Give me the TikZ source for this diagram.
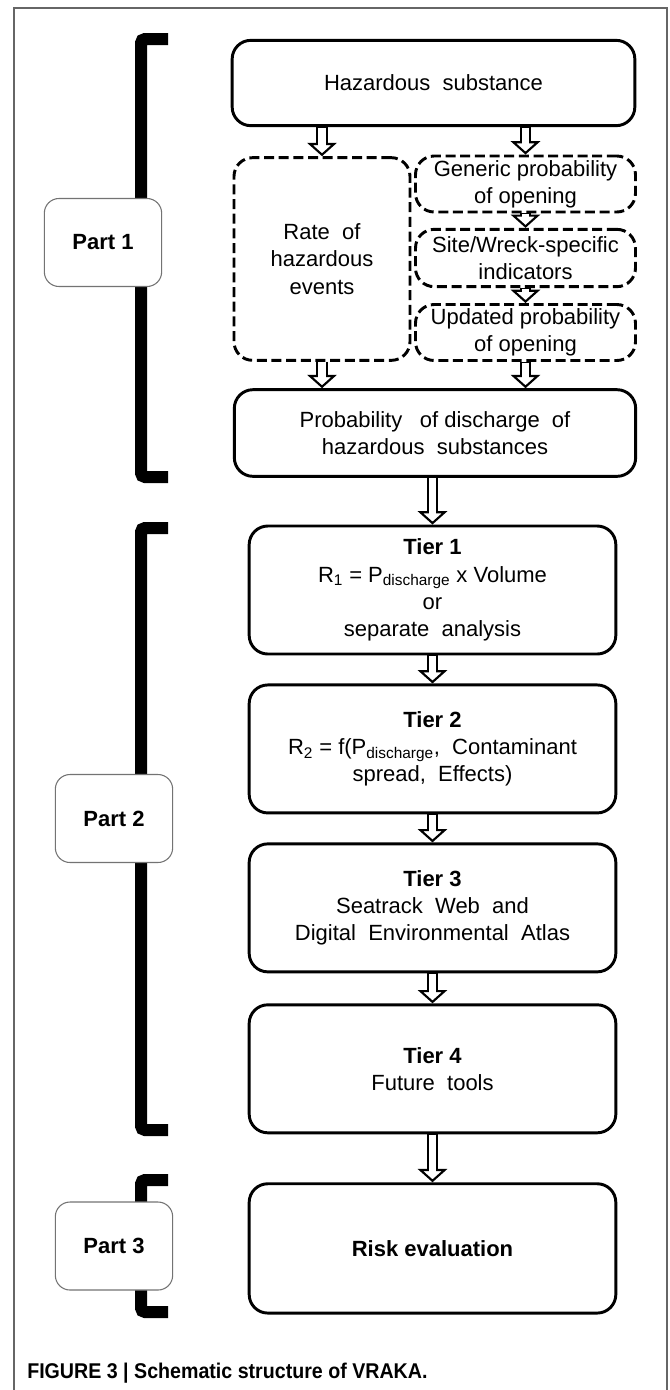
\documentclass[tikz,border=0pt]{standalone}
\usepackage{fontspec}
\setsansfont{Liberation Sans}
\usepackage{graphicx}
\usetikzlibrary{arrows.meta, positioning}

\begin{document}
\begin{tikzpicture}[x=0.75pt, y=-0.75pt, node distance=21pt]

% Define styles
\tikzstyle{box} = [rectangle, draw=black, line width=2.2pt, rounded corners=14pt, fill=white,
    align=center, inner sep=1pt, font=\fontsize{16.5}{20.5}\sffamily]
\tikzstyle{dbox} = [box, dash pattern=on 7.5pt off 3.5pt]
\tikzstyle{tier} = [box, minimum width=275pt, minimum height=96pt]
\tikzstyle{part} = [rectangle, draw=black!55, line width=0.8pt, rounded corners=11pt, fill=white,
    minimum width=88pt, minimum height=66pt, font=\fontsize{16.5}{20}\sffamily\bfseries]
\tikzstyle{bracket} = [line width=9pt, rounded corners=3pt]
\tikzstyle{line} = [draw, line width=8.5pt, -{Triangle[open, length=10pt, width=22pt, line width=1.6pt]},
    postaction={draw=white, line width=5.3pt, -, shorten <=0.5pt, shorten >=5.5pt}]

\useasboundingbox (0,0) rectangle (669,1390);

% Frame
\draw[black!60, line width=0.8pt] (14,1390) -- (14,8) -- (667,8) -- (667,1390);

% Part 1
\node [box, minimum width=302pt, minimum height=64pt] (haz) at (433.5,83) {Hazardous\ \ substance};
\node [dbox, minimum width=132pt, minimum height=152pt] (rate) at (322,259) {Rate\ \ of\\hazardous\\events};
\node [dbox, minimum width=165pt, minimum height=42pt] (generic) at (525.5,184) {Generic probability\\of opening};
\node [dbox, minimum width=165pt, minimum height=43pt] (site) at (525.5,258) {Site/Wreck-specific\\indicators};
\node [dbox, minimum width=165pt, minimum height=42pt] (updated) at (525.5,332.5) {Updated probability\\of opening};
\node [box, minimum width=301pt, minimum height=65pt] (prob) at (435,433) {Probability\hspace{0.8em}of discharge\ \ of\\hazardous\ \ substances};

% Part 2
\node [tier] (tierone) at (432.5,590) {\textbf{Tier\ 1}\\R\textsubscript{1} = P\textsubscript{discharge} x Volume\\or\\separate\ \ analysis};
\node [tier, below=of tierone] (tiertwo) {\textbf{Tier\ 2}\\R\textsubscript{2} = f(P\textsubscript{discharge},\ \ Contaminant\\spread,\ \ Effects)};
\node [tier, below=of tiertwo] (tierthree) {\textbf{Tier\ 3}\\Seatrack\ \ Web\ \ and\\Digital\ \ Environmental\ \ Atlas};
\node [tier, below=22.5pt of tierthree] (tierfour) {\textbf{Tier\ 4}\\Future\ \ tools};

% Part 3
\node [tier, below=36pt of tierfour, minimum height=97pt] (risk) {\textbf{Risk\ evaluation}};

% Draw arrows
\path [line] (haz.south -| rate.north) -- (rate.north);
\path [line] (haz.south -| generic.north) -- (generic.north);
\path [line] (generic.south) -- (site.north);
\path [line] (site.south) -- (updated.north);
\path [line] (rate.south) -- (rate.south |- prob.north);
\path [line] (updated.south) -- (updated.south |- prob.north);
\path [line] (prob.south -| tierone.north) -- (tierone.north);
\path [line] (tierone) -- (tiertwo);
\path [line] (tiertwo) -- (tierthree);
\path [line] (tierthree) -- (tierfour);
\path [line] (tierfour) -- (risk);

% Brackets and part labels
\draw [bracket] (168,39) -- (141,39) -- (141,477) -- (168,477);
\draw [bracket] (168,528) -- (141,528) -- (141,1130) -- (168,1130);
\draw [bracket] (168,1180) -- (141,1180) -- (141,1312) -- (168,1312);
\node [part] (partone) at (103,242.5) {Part 1};
\node [part] (parttwo) at (114,818.5) {Part 2};
\node [part] (partthree) at (114,1246) {Part 3};

% Caption
\node [anchor=west, inner sep=0pt, font=\fontsize{16}{19}\sffamily\bfseries] (caption) at (27,1373)
    {\scalebox{0.92}[1]{FIGURE 3 | Schematic structure of VRAKA.}};

\end{tikzpicture}
\end{document}
